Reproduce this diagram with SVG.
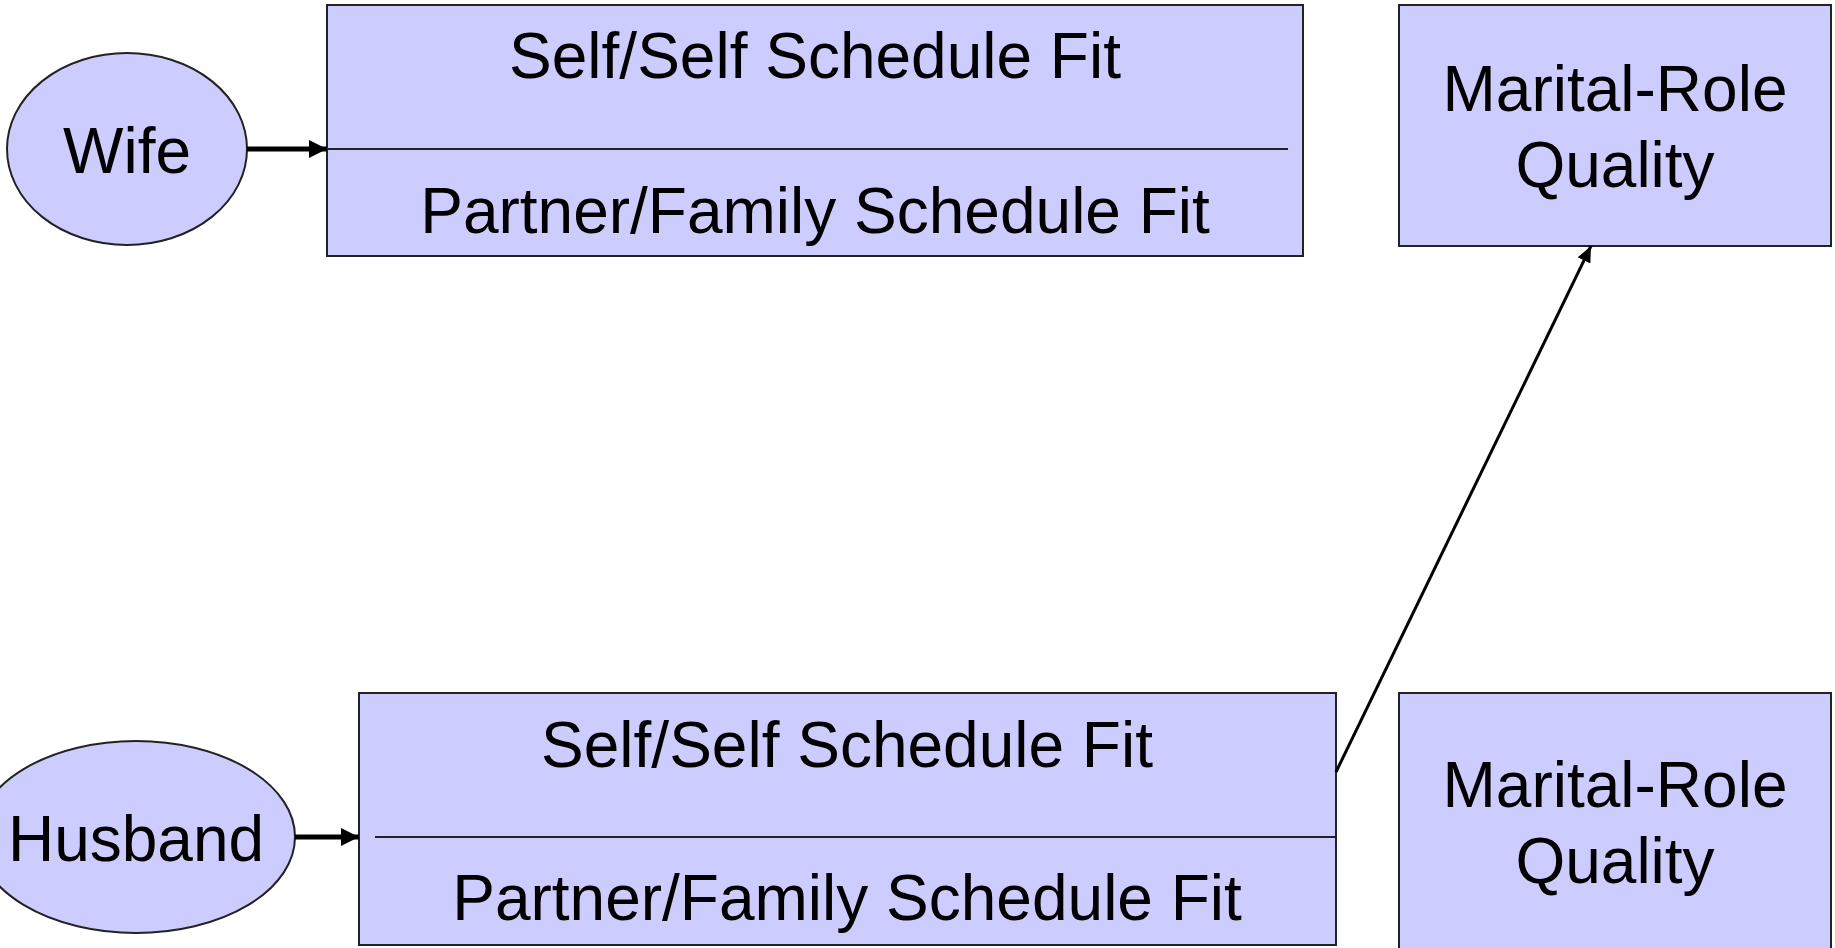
<svg xmlns="http://www.w3.org/2000/svg" width="1835" height="948" viewBox="0 0 1835 948">
<style>
.shape{fill:#CCCCFF;stroke:#222;stroke-width:2}
.div{stroke:#222;stroke-width:2;fill:none}
.lbl{font-family:"Liberation Sans",Arial,sans-serif;font-size:64px;fill:#000;text-anchor:middle}
.thick{stroke:#000;stroke-width:5;fill:none}
.thin{stroke:#000;stroke-width:3;fill:none}
</style>
<defs>
<marker id="ahBig" markerUnits="userSpaceOnUse" markerWidth="18" markerHeight="18" refX="18" refY="9" orient="auto">
<path d="M0,0 L18,9 L0,18 z" fill="#000"/>
</marker>
<marker id="ahSmall" markerUnits="userSpaceOnUse" markerWidth="16" markerHeight="14" refX="16" refY="7" orient="auto">
<path d="M0,0 L16,7 L0,14 z" fill="#000"/>
</marker>
</defs>
<rect width="1835" height="948" fill="#fff"/>
<g id="wife">
<ellipse class="shape" cx="127" cy="149" rx="120" ry="96"/>
<text class="lbl" x="127" y="173">Wife</text>
</g>
<g id="wife-fit">
<rect class="shape" x="327" y="5" width="976" height="251"/>
<line class="div" x1="327" y1="149" x2="1288" y2="149"/>
<text class="lbl" x="815" y="78">Self/Self Schedule Fit</text>
<text class="lbl" x="815" y="233">Partner/Family Schedule Fit</text>
</g>
<g id="wife-quality">
<rect class="shape" x="1399" y="5" width="432" height="241"/>
<text class="lbl" x="1615" y="111">Marital-Role</text>
<text class="lbl" x="1615" y="187">Quality</text>
</g>
<g id="husband">
<ellipse class="shape" cx="136" cy="837" rx="159" ry="96"/>
<text class="lbl" x="136" y="861">Husband</text>
</g>
<g id="husband-fit">
<rect class="shape" x="359" y="693" width="977" height="252"/>
<line class="div" x1="375" y1="837" x2="1336" y2="837"/>
<text class="lbl" x="847" y="767">Self/Self Schedule Fit</text>
<text class="lbl" x="847" y="920">Partner/Family Schedule Fit</text>
</g>
<g id="husband-quality">
<rect class="shape" x="1399" y="693" width="432" height="270"/>
<text class="lbl" x="1615" y="807">Marital-Role</text>
<text class="lbl" x="1615" y="883">Quality</text>
</g>
<g id="connectors">
<line class="thick" x1="247" y1="149" x2="327" y2="149" marker-end="url(#ahBig)"/>
<line class="thick" x1="295" y1="837" x2="359" y2="837" marker-end="url(#ahBig)"/>
<line class="thin" x1="1336" y1="772" x2="1591" y2="246" marker-end="url(#ahSmall)"/>
</g>
</svg>
